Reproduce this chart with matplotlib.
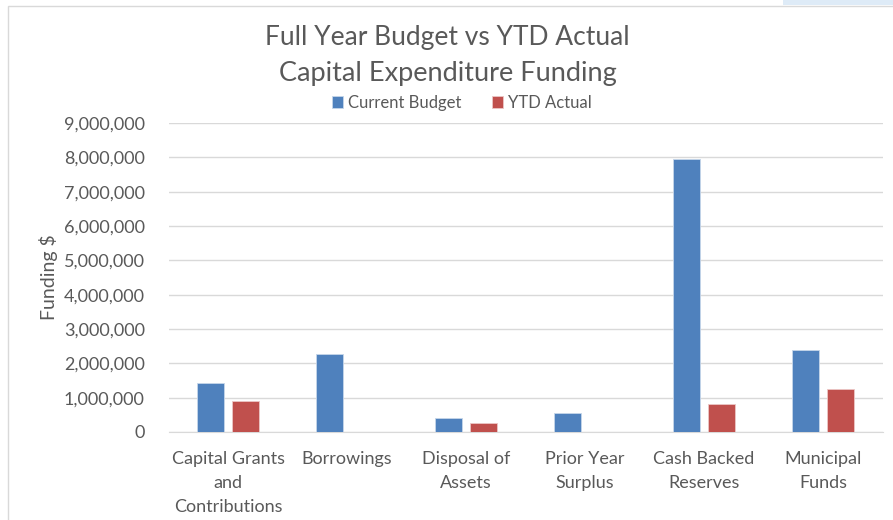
import numpy as np
import matplotlib.pyplot as plt
from matplotlib.patches import Rectangle
from matplotlib.ticker import FuncFormatter

plt.rcParams['font.family'] = ['Lato', 'DejaVu Sans']

categories = ["Capital Grants\nand\nContributions", "Borrowings", "Disposal of\nAssets",
              "Prior Year\nSurplus", "Cash Backed\nReserves", "Municipal\nFunds"]
current_budget = [1430000, 2270000, 410000, 550000, 7960000, 2390000]
ytd_actual = [900000, 0, 260000, 0, 820000, 1250000]

txt = "#595959"
fig = plt.figure(figsize=(8.93, 5.2), dpi=100)
fig.patches.append(Rectangle((8 / 893, -0.01), 1.0, 1 - 6 / 520 + 0.01, transform=fig.transFigure,
                             fill=False, edgecolor="#d9d9d9", lw=1))
fig.patches.append(Rectangle((783 / 893, 1 - 5 / 520), 0.2, 0.02, transform=fig.transFigure,
                             color="#deebf7", lw=0))

ax = fig.add_axes([168.5 / 893, 1 - 432 / 520, 714 / 893, 309 / 520])
x = np.arange(len(categories))
w = 0.227
off = (w + 0.067) / 2
ax.bar(x - off, current_budget, w, color="#4f81bd", edgecolor="#c6d6ea", lw=0.6, label="Current Budget", zorder=3)
ax.bar(x + off, ytd_actual, w, color="#c0504d", edgecolor="#ecc7c6", lw=0.6, label="YTD Actual", zorder=3)

ax.set_xlim(-0.5, len(categories) - 0.5)
ax.set_ylim(0, 9000000)
ax.set_yticks(np.arange(0, 9000001, 1000000))
ax.yaxis.set_major_formatter(FuncFormatter(lambda v, p: f"{int(v):,}"))
ax.grid(axis="y", color="#d9d9d9", lw=1, zorder=0)
for s in ax.spines.values():
    s.set_visible(False)
ax.spines["bottom"].set_visible(True)
ax.spines["bottom"].set_color("#d9d9d9")
ax.tick_params(length=0, labelsize=13, colors=txt)
ax.tick_params(axis="x", pad=14)
ax.tick_params(axis="y", pad=17)
ax.set_xticks(x)
ax.set_xticklabels(categories, linespacing=1.6, va="top")
ax.set_ylabel("Funding $", fontsize=14, color=txt, labelpad=4)

fig.text(447 / 893, 1 - 38 / 520, "Full Year Budget vs YTD Actual", ha="center", va="center",
         fontsize=19, color=txt)
fig.text(448 / 893, 1 - 73 / 520, "Capital Expenditure Funding", ha="center", va="center",
         fontsize=19.5, color=txt)
fig.legend(loc="center", bbox_to_anchor=(462 / 893, 1 - 103 / 520), ncol=2, frameon=False,
           fontsize=12, labelcolor=txt, handlelength=0.7, handleheight=0.7, handletextpad=0.3,
           columnspacing=1.8)

fig.savefig("out.png", dpi=100)
